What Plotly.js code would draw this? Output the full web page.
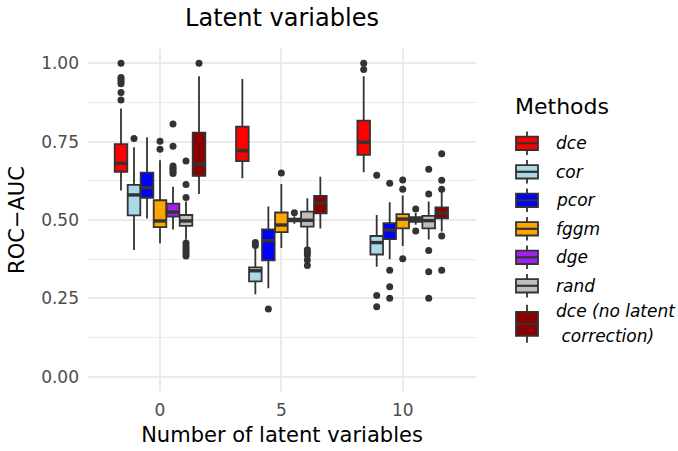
<!DOCTYPE html>
<html>
<head>
<meta charset="utf-8">
<script src="https://cdn.plot.ly/plotly-3.0.1.min.js"></script>
<style>
  html, body { margin: 0; padding: 0; background: #ffffff; }
  #chart { width: 678px; height: 451px; }
</style>
</head>
<body>
<div id="chart"></div>
<script>
// Number of latent variables on the x axis
const latentCounts = [0, 5, 10];

// Methods compared (legend order)
const methods = ["dce", "cor", "pcor", "fggm", "dge", "rand", "dce (no latent correction)"];
const methodColors = ["#FF0000", "#ADD8E6", "#0000FF", "#FFA500", "#A020F0", "#BEBEBE", "#8B0000"];

// Box statistics of ROC-AUC per method, one value per latent count
const lowerWhisker = [
  [0.594, 0.633, 0.652],
  [0.404, 0.263, 0.351],
  [0.505, 0.282, 0.375],
  [0.426, 0.411, 0.417],
  [0.470, 0.488, 0.485],
  [0.438, 0.415, 0.438],
  [0.583, 0.473, 0.463]
];
const q1 = [
  [0.654, 0.688, 0.708],
  [0.515, 0.304, 0.390],
  [0.571, 0.371, 0.439],
  [0.477, 0.461, 0.473],
  [0.511, 0.496, 0.494],
  [0.481, 0.479, 0.473],
  [0.641, 0.521, 0.505]
];
const median = [
  [0.681, 0.721, 0.748],
  [0.580, 0.338, 0.428],
  [0.603, 0.434, 0.468],
  [0.497, 0.484, 0.503],
  [0.525, 0.500, 0.501],
  [0.497, 0.499, 0.498],
  [0.678, 0.554, 0.521]
];
const q3 = [
  [0.742, 0.798, 0.817],
  [0.612, 0.349, 0.449],
  [0.651, 0.470, 0.490],
  [0.563, 0.524, 0.519],
  [0.552, 0.504, 0.509],
  [0.516, 0.527, 0.513],
  [0.779, 0.577, 0.540]
];
const upperWhisker = [
  [0.856, 0.950, 0.959],
  [0.732, 0.410, 0.516],
  [0.764, 0.543, 0.557],
  [0.691, 0.615, 0.578],
  [0.606, 0.512, 0.522],
  [0.559, 0.569, 0.559],
  [0.959, 0.638, 0.590]
];
// Outlying runs per method and latent count
const outliers = [
  [[1.000, 0.955, 0.948, 0.941, 0.935, 0.907, 0.883], [], [1.000, 0.980]],
  [[0.760], [0.428, 0.419], [0.643, 0.259, 0.223]],
  [[], [0.216], [0.617, 0.340, 0.287, 0.250]],
  [[0.751, 0.726], [0.650], [0.628, 0.598, 0.376]],
  [[0.806, 0.735, 0.672, 0.666, 0.660, 0.654, 0.648], [0.523], [0.535, 0.465]],
  [[0.688, 0.613, 0.572, 0.427, 0.418, 0.409, 0.400, 0.392, 0.385], [0.405, 0.397, 0.388, 0.372, 0.355], [0.662, 0.583, 0.403, 0.335, 0.250]],
  [[1.000], [], [0.711, 0.627, 0.598, 0.449, 0.340]]
];

// Legend labels (the last one wraps onto two lines)
const legendLines = [["dce"], ["cor"], ["pcor"], ["fggm"], ["dge"], ["rand"], ["dce (no latent", "\u00A0correction)"]];

const FONT = "DejaVu Sans, sans-serif";
const OUTLINE = "#333333";
const W = 678, H = 451;
const M = { l: 88, r: 202, t: 48, b: 59 };
const plotW = W - M.l - M.r, plotH = H - M.t - M.b;
const BOX_GAP = 0.25;
// line-ew markers are drawn 1.4x their nominal size
const MEDIAN_MARKER = 12.7 / 1.4;

// Boxes: precomputed statistics, outliers passed as per-box sample points
const boxTraces = methods.map((name, i) => ({
  type: "box",
  name: name,
  orientation: "v",
  x: latentCounts,
  q1: q1[i],
  median: median[i],
  q3: q3[i],
  lowerfence: lowerWhisker[i],
  upperfence: upperWhisker[i],
  // an empty group is given as [null] so the sample array keeps its 2-D shape
  y: outliers[i].map(g => (g.length ? g : [null])),
  boxpoints: "outliers",
  jitter: 0,
  pointpos: 0,
  whiskerwidth: 0,
  fillcolor: methodColors[i],
  line: { color: OUTLINE, width: 1.8 },
  marker: { color: OUTLINE, size: 7, line: { width: 0 }, outliercolor: OUTLINE },
  showlegend: false,
  hoverinfo: "skip"
}));

// Heavier median bars, dodged the same way as the boxes
const medianTraces = methods.map((name, i) => ({
  type: "scatter",
  mode: "markers",
  name: name + " median",
  x: latentCounts,
  y: median[i],
  offsetgroup: "m" + i,
  alignmentgroup: "medians",
  marker: { symbol: "line-ew", size: MEDIAN_MARKER, line: { color: OUTLINE, width: 3.4 } },
  showlegend: false,
  hoverinfo: "skip"
}));

// Pixel -> paper helpers for the hand-built legend
const px2x = p => (p - M.l) / plotW;
const py2y = p => (H - M.b - p) / plotH;

const shapes = [];
const annotations = [];

annotations.push({
  xref: "paper", yref: "paper", x: px2x(513), y: py2y(106.7),
  xanchor: "left", yanchor: "middle", showarrow: false,
  text: "Methods", font: { family: FONT, size: 22, color: "#000000" }
});

const keyLeft = 516, keyRight = 538, keyMid = 527, textLeft = 554;
let rowY = 143.3;
methods.forEach((name, i) => {
  const lines = legendLines[i];
  const twoLine = lines.length > 1;
  const cy = twoLine ? rowY + 9.5 : rowY;
  const boxHalf = twoLine ? 12 : 6.7;
  const whiskHalf = twoLine ? 19 : 11.7;
  shapes.push({
    type: "line", xref: "paper", yref: "paper",
    x0: px2x(keyMid), x1: px2x(keyMid), y0: py2y(cy - whiskHalf), y1: py2y(cy + whiskHalf),
    line: { color: OUTLINE, width: 1.8 }
  });
  shapes.push({
    type: "rect", xref: "paper", yref: "paper",
    x0: px2x(keyLeft), x1: px2x(keyRight), y0: py2y(cy - boxHalf), y1: py2y(cy + boxHalf),
    fillcolor: methodColors[i], line: { color: OUTLINE, width: 1.8 }
  });
  shapes.push({
    type: "line", xref: "paper", yref: "paper",
    x0: px2x(keyLeft), x1: px2x(keyRight), y0: py2y(cy), y1: py2y(cy),
    line: { color: OUTLINE, width: 2.2 }
  });
  lines.forEach((t, k) => {
    const ty = twoLine ? cy - 12.5 + 25 * k : cy;
    annotations.push({
      xref: "paper", yref: "paper", x: px2x(textLeft), y: py2y(ty),
      xanchor: "left", yanchor: "middle", showarrow: false,
      text: "<i>" + t + "</i>", font: { family: FONT, size: 17, color: "#000000" }
    });
  });
  rowY += 28.5;
});

const layout = {
  width: W, height: H,
  margin: M,
  paper_bgcolor: "#ffffff",
  plot_bgcolor: "#ffffff",
  font: { family: FONT, color: "#000000" },
  showlegend: false,
  boxmode: "group",
  boxgap: BOX_GAP,
  boxgroupgap: 0.03,
  scattermode: "group",
  scattergap: BOX_GAP,
  title: {
    text: "Latent variables",
    font: { family: FONT, size: 24, color: "#000000" },
    x: 0.5, xref: "paper", xanchor: "center",
    y: 1 - 18 / H, yref: "container", yanchor: "middle"
  },
  xaxis: {
    range: [-2.967, 13.02],
    tickvals: latentCounts,
    ticktext: latentCounts.map(String),
    showgrid: true, gridcolor: "#EBEBEB", gridwidth: 2,
    zeroline: false, showline: false, ticks: "",
    tickfont: { family: FONT, size: 17, color: "#4D4D4D" },
    ticklabelstandoff: 6,
    title: { text: "Number of latent variables", font: { family: FONT, size: 21, color: "#000000" }, standoff: 8 },
    automargin: false
  },
  yaxis: {
    range: [-0.0488, 1.0488],
    tickvals: [0, 0.25, 0.5, 0.75, 1],
    ticktext: ["0.00", "0.25", "0.50", "0.75", "1.00"],
    showgrid: true, gridcolor: "#EBEBEB", gridwidth: 2,
    minor: { tickvals: [0.125, 0.375, 0.625, 0.875], showgrid: true, gridcolor: "#EBEBEB", gridwidth: 1, ticks: "" },
    zeroline: false, showline: false, ticks: "",
    tickfont: { family: FONT, size: 17, color: "#4D4D4D" },
    ticklabelstandoff: 8,
    title: { text: "ROC\u2212AUC", font: { family: FONT, size: 21, color: "#000000" }, standoff: 10 },
    automargin: false
  },
  shapes: shapes,
  annotations: annotations
};

Plotly.newPlot("chart", boxTraces.concat(medianTraces), layout, { displayModeBar: false, staticPlot: true });
</script>
</body>
</html>
